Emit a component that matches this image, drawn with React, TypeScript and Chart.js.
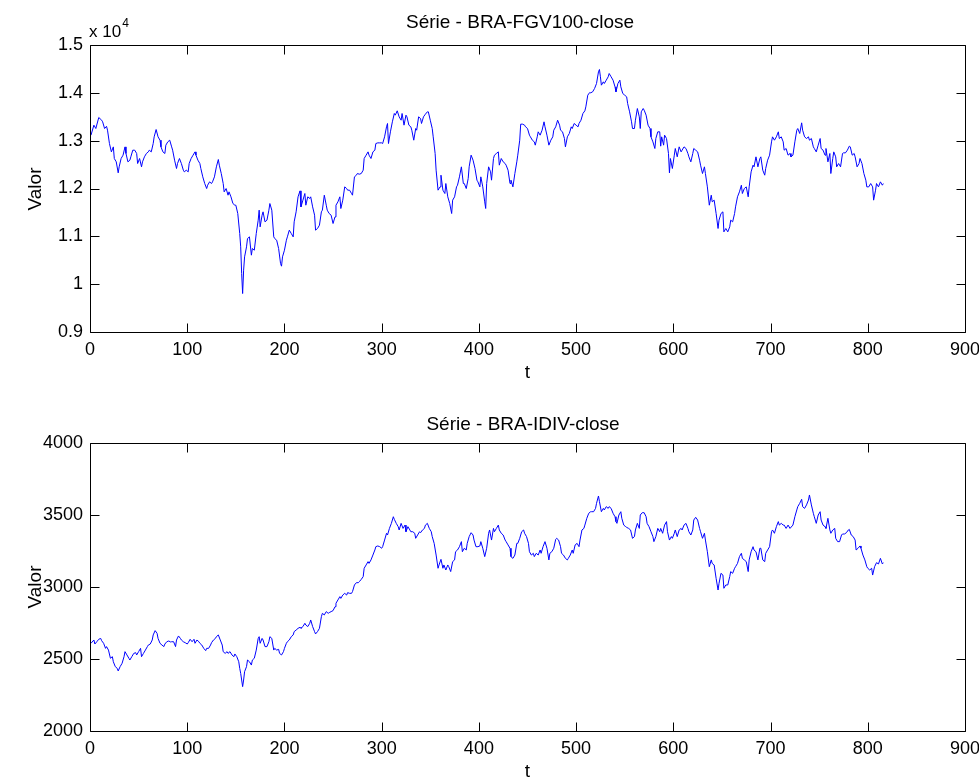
import React, { useEffect, useRef } from "react";
import { Chart, registerables } from "chart.js";

Chart.register(...registerables);

const FONT = '"Liberation Sans", Arial, Helvetica, sans-serif';

const topTitle = "Série - BRA-FGV100-close";
const bottomTitle = "Série - BRA-IDIV-close";
const yLabel = "Valor";
const xLabel = "t";
const xTickValues = [0, 100, 200, 300, 400, 500, 600, 700, 800, 900];
const topYTicks = [9000, 10000, 11000, 12000, 13000, 14000, 15000];
const bottomYTicks = [2000, 2500, 3000, 3500, 4000];

// [t, value] pairs
const fgv100: [number, number][] = [
  [1,13115],[4,13324],[6,13254],[9,13484],[12,13428],[13,13394],[15,13254],[17,13300],[18,13220],[20,12940],[22,12766],[24,12870],[25,12627],[27,12557],[29,12327],[30,12453],[32,12627],[34,12697],[36,12870],[37,12732],[39,12557],[41,12592],[42,12662],[44,12801],[46,12801],[48,12732],[49,12522],[51,12627],[53,12453],[54,12557],[56,12662],[58,12732],[60,12766],[61,12801],[63,12766],[65,12940],[66,13080],[68,13233],[70,13080],[72,13010],[73,12870],[75,12766],[77,12732],[78,12906],[80,12975],[82,13010],[84,12870],[85,12801],[87,12592],[89,12418],[90,12522],[92,12627],[94,12522],[96,12383],[97,12348],[99,12383],[101,12348],[102,12522],[104,12627],[106,12697],[108,12766],[109,12697],[111,12592],[113,12522],[114,12418],[116,12244],[118,12104],[120,11999],[121,12069],[123,12139],[125,12104],[126,12139],[128,12244],[130,12453],[132,12606],[133,12488],[135,12313],[137,12104],[138,11930],[140,11999],[142,11860],[143,11930],[145,11825],[147,11686],[149,11651],[150,11651],[152,11477],[154,11059],[155,10780],[156,10222],[157,9804],[158,10292],[159,10571],[161,10780],[162,10954],[164,10989],[166,10606],[167,10745],[169,10710],[171,11059],[173,11338],[174,11547],[175,11198],[177,11442],[178,11512],[180,11303],[182,11338],[184,11547],[185,11686],[187,11547],[189,10989],[190,10954],[192,10919],[194,10745],[196,10431],[197,10376],[198,10571],
  [200,10710],[202,10919],[203,10989],[205,11129],[207,11059],[209,10989],[210,11303],[212,11512],[214,11826],[216,11951],[217,11616],[219,11756],[221,11895],[222,11651],[224,11826],[226,11791],[227,11826],[229,11616],[231,11442],[232,11129],[234,11164],[236,11233],[238,11512],[239,11547],[241,11860],[243,11651],[244,11547],[246,11477],[248,11442],[250,11268],[252,11407],[253,11651],[255,11721],[257,11826],[258,11581],[260,11756],[262,12034],[264,11999],[265,11965],[267,11965],[269,11895],[270,11860],[272,12244],[274,12278],[275,12313],[277,12299],[279,12313],[281,12383],[282,12627],[284,12697],[286,12766],[287,12697],[289,12627],[291,12766],[293,12801],[294,12940],[296,12954],[298,12954],[300,12954],[301,12940],[303,13080],[305,13289],[306,13359],[307,12940],[309,13185],[311,13394],[313,13568],[314,13533],[316,13624],[318,13498],[320,13428],[321,13568],[323,13324],[325,13533],[326,13498],[328,13324],[330,13289],[331,13219],[333,13010],[335,13254],[336,13219],[338,13498],[340,13463],[341,13359],[343,13498],[345,13554],[347,13603],[348,13603],[350,13428],[352,13254],[353,13080],[355,12732],[356,12383],[358,11965],[360,12034],[361,12278],[363,11965],[365,11895],[366,12104],[368,11826],[370,11686],[372,11477],[373,11756],[375,11826],[377,12034],[378,12069],[380,12244],[382,12453],[384,12104],[385,12104],[387,11999],[389,12209],[390,12453],[392,12697],[394,12592],[396,12418],[398,12174],[399,12139],
  [401,12034],[402,12244],[404,12034],[406,11721],[407,11582],[408,12104],[410,12453],[412,12348],[413,12174],[415,12627],[416,12697],[418,12732],[420,12766],[421,12488],[423,12627],[425,12557],[427,12522],[428,12488],[430,12383],[432,12104],[433,12174],[435,12034],[437,12313],[439,12557],[440,12697],[442,13010],[443,13345],[445,13345],[447,13324],[448,13289],[450,13254],[452,13115],[453,13080],[455,13010],[457,12975],[458,12906],[460,13080],[461,13185],[463,13115],[465,13219],[467,13394],[468,13289],[470,13115],[472,12906],[474,13010],[476,13080],[477,13219],[479,13289],[481,13428],[483,13324],[484,13219],[486,13185],[488,13045],[489,12871],[491,13080],[493,13150],[495,13289],[496,13254],[498,13359],[500,13324],[502,13289],[503,13359],[505,13428],[507,13568],[509,13624],[510,13707],[512,13951],[514,14007],[515,14000],[517,14021],[519,14091],[521,14195],[523,14439],[524,14488],[525,14335],[526,14160],[528,14230],[529,14195],[531,14265],[533,14335],[534,14404],[536,14335],[538,14265],[540,14125],[541,14021],[543,14195],[545,14265],[546,14125],[548,13986],[550,13951],[552,13916],[553,13777],[555,13603],[557,13394],[558,13254],[560,13254],[561,13428],[563,13672],[565,13498],[566,13254],[567,13603],[569,13672],[570,13637],[572,13533],[574,13324],[576,13254],[577,13080],[579,12975],[581,12836],[582,13045],[584,13185],[586,13185],[587,12885],[588,13080],[590,12906],[591,13115],[593,13045],[595,12732],[596,12327],[597,12627],[599,12418],
  [601,12697],[602,12836],[604,12662],[606,12871],[608,12766],[609,12801],[611,12871],[613,12836],[615,12732],[616,12662],[618,12557],[620,12732],[621,12836],[623,12801],[625,12766],[627,12592],[628,12488],[630,12313],[632,12453],[633,12313],[635,12034],[637,11651],[639,11860],[640,11721],[642,11756],[644,11477],[646,11164],[647,11338],[649,11477],[651,11512],[652,11094],[654,11164],[656,11094],[658,11198],[659,11338],[661,11303],[663,11477],[664,11616],[666,11826],[668,11930],[670,12069],[671,11895],[673,11999],[675,12034],[677,11826],[678,12034],[680,12348],[682,12488],[683,12453],[685,12662],[687,12453],[689,12627],[690,12662],[692,12383],[694,12278],[695,12418],[697,12592],[699,12697],[701,12975],[702,13080],[704,13010],[706,13080],[708,13185],[709,13045],[711,13080],[713,12975],[714,12801],[716,12836],[718,12697],[720,12732],[721,12662],[723,12697],[725,12975],[727,13219],[728,13254],[730,13150],[732,13373],[733,13219],[735,13080],[737,13045],[739,13080],[740,13010],[742,13045],[744,12871],[745,12836],[747,12766],[749,12906],[751,13045],[752,12836],[754,12801],[756,12697],[757,12836],[759,12557],[761,12732],[762,12313],[764,12627],[765,12766],[767,12662],[768,12453],[770,12522],[772,12453],[774,12732],[775,12745],[777,12745],[779,12801],[781,12885],[782,12871],[784,12697],[786,12732],[787,12662],[789,12453],[791,12522],[792,12627],[794,12522],[796,12313],[798,12174],[799,12034],[801,12034],[803,12104],[805,12034],[806,11756],[808,11965],[809,12104],[811,12034],[813,12139],[815,12069],[816,12104]
];

const idiv: [number, number][] = [
  [1,2609],[4,2632],[5,2604],[7,2620],[9,2637],[11,2643],[12,2627],[14,2609],[16,2574],[17,2586],[19,2562],[21,2505],[23,2516],[24,2481],[26,2447],[28,2435],[29,2417],[31,2447],[33,2470],[35,2516],[36,2551],[38,2528],[40,2505],[41,2493],[43,2516],[45,2539],[47,2544],[48,2528],[50,2551],[52,2574],[53,2516],[55,2539],[57,2562],[59,2586],[60,2597],[62,2604],[64,2632],[65,2667],[67,2697],[69,2678],[70,2643],[72,2609],[74,2597],[76,2586],[77,2604],[79,2620],[81,2625],[83,2618],[84,2620],[86,2620],[88,2586],[89,2632],[91,2660],[93,2643],[94,2632],[96,2620],[98,2613],[100,2604],[101,2613],[103,2637],[105,2620],[107,2637],[108,2609],[110,2632],[112,2620],[113,2609],[115,2597],[117,2574],[119,2558],[120,2574],[122,2574],[124,2597],[125,2613],[127,2632],[129,2643],[130,2655],[132,2667],[134,2632],[136,2597],[137,2551],[139,2539],[141,2551],[142,2539],[144,2551],[146,2528],[148,2516],[149,2535],[151,2516],[153,2481],[154,2435],[155,2400],[157,2308],[158,2354],[159,2412],[161,2447],[162,2493],[164,2481],[166,2458],[167,2493],[169,2505],[171,2562],[173,2643],[174,2655],[175,2609],[177,2643],[178,2632],[180,2586],[182,2586],[184,2620],[185,2655],[187,2643],[189,2562],[190,2574],[192,2562],[194,2567],[195,2539],[197,2528],[199,2551],
  [200,2574],[202,2609],[203,2620],[205,2632],[207,2655],[209,2667],[210,2690],[212,2701],[214,2713],[216,2720],[217,2713],[219,2725],[221,2748],[222,2736],[224,2725],[226,2748],[227,2771],[229,2725],[231,2690],[232,2674],[234,2690],[236,2713],[238,2794],[239,2817],[241,2806],[243,2829],[245,2817],[246,2822],[248,2829],[250,2836],[252,2863],[253,2887],[255,2910],[257,2933],[258,2921],[260,2944],[262,2956],[264,2944],[265,2961],[267,2956],[269,2956],[270,2968],[272,3014],[274,3030],[276,3030],[277,3037],[279,3053],[281,3072],[282,3130],[284,3153],[286,3176],[287,3164],[289,3188],[291,3222],[293,3257],[294,3280],[296,3285],[298,3280],[300,3269],[301,3280],[303,3326],[305,3373],[306,3361],[308,3407],[310,3442],[312,3488],[313,3470],[315,3442],[317,3419],[318,3396],[320,3442],[322,3407],[324,3430],[325,3384],[327,3419],[329,3396],[330,3384],[332,3384],[334,3373],[335,3338],[337,3361],[339,3384],[340,3377],[342,3396],[344,3407],[345,3430],[347,3442],[349,3407],[351,3384],[352,3350],[354,3303],[356,3222],[358,3130],[359,3153],[361,3192],[363,3130],[364,3153],[366,3118],[368,3153],[369,3141],[371,3107],[373,3176],[375,3188],[376,3245],[378,3257],[380,3280],[382,3315],[383,3245],[385,3269],[387,3257],[388,3303],[390,3350],[392,3377],[394,3361],[395,3326],[397,3280],[399,3280],
  [401,3285],[402,3315],[404,3269],[406,3211],[408,3269],[410,3373],[411,3396],[413,3326],[415,3407],[416,3384],[418,3407],[420,3430],[421,3396],[423,3373],[425,3361],[427,3326],[428,3315],[430,3292],[432,3269],[433,3211],[435,3199],[437,3222],[439,3303],[440,3303],[442,3338],[444,3384],[446,3396],[447,3373],[449,3350],[451,3303],[452,3245],[454,3222],[456,3234],[457,3211],[459,3234],[461,3222],[463,3257],[464,3234],[466,3280],[468,3315],[470,3269],[472,3188],[473,3234],[475,3245],[477,3269],[479,3331],[480,3338],[482,3326],[484,3280],[485,3234],[487,3222],[489,3199],[491,3188],[492,3199],[494,3222],[496,3257],[497,3234],[499,3292],[501,3303],[503,3280],[504,3326],[506,3396],[508,3407],[509,3430],[511,3477],[513,3512],[515,3523],[516,3523],[518,3523],[520,3546],[521,3581],[523,3632],[524,3593],[526,3523],[528,3546],[529,3535],[531,3558],[533,3546],[534,3558],[536,3546],[538,3512],[540,3488],[541,3454],[542,3442],[544,3500],[546,3523],[547,3477],[549,3430],[551,3419],[552,3414],[554,3407],[556,3396],[558,3338],[560,3350],[561,3396],[563,3442],[565,3407],[566,3500],[568,3516],[570,3516],[572,3488],[573,3442],[575,3419],[577,3384],[579,3350],[580,3315],[582,3350],[584,3407],[586,3384],[587,3407],[589,3373],[591,3430],[593,3454],[594,3384],[596,3326],[598,3350],[599,3338],
  [601,3373],[602,3396],[604,3350],[606,3396],[608,3407],[609,3396],[611,3430],[613,3442],[615,3407],[616,3384],[618,3361],[620,3396],[621,3465],[623,3484],[625,3465],[627,3407],[628,3384],[630,3338],[632,3373],[633,3326],[635,3245],[637,3141],[639,3188],[640,3164],[642,3153],[644,3060],[646,2979],[647,3025],[649,3095],[651,3083],[652,2991],[654,3014],[656,3014],[658,3072],[659,3107],[661,3095],[663,3130],[664,3141],[666,3164],[668,3211],[670,3234],[671,3199],[673,3188],[675,3176],[677,3107],[678,3188],[680,3245],[682,3280],[683,3257],[685,3245],[687,3188],[689,3269],[690,3269],[692,3188],[694,3176],[695,3234],[697,3257],[699,3280],[701,3384],[702,3396],[704,3373],[706,3419],[708,3454],[709,3430],[711,3442],[713,3430],[714,3430],[716,3407],[718,3430],[720,3407],[721,3407],[723,3430],[725,3488],[727,3535],[728,3558],[730,3581],[732,3609],[733,3558],[735,3546],[737,3570],[739,3604],[740,3639],[742,3570],[744,3512],[745,3488],[747,3442],[749,3500],[751,3523],[752,3465],[754,3430],[756,3419],[757,3407],[759,3477],[761,3396],[762,3373],[764,3396],[766,3407],[767,3338],[769,3315],[771,3315],[773,3361],[774,3368],[776,3368],[778,3377],[780,3396],[781,3400],[783,3361],[785,3350],[787,3326],[788,3257],[790,3269],[792,3285],[793,3269],[795,3222],[797,3188],[799,3141],[800,3130],[802,3118],[804,3130],[805,3083],[807,3141],[809,3169],[811,3160],[813,3199],[815,3160],[816,3169]
];

type FrameOpts = {
  title: string;
  titleX: number;
  titleY: number;
  labelX: number;
  labelY: number;
  xLabelY: number;
  exponent: boolean;
};

const framePlugin = {
  id: "frame",
  afterDraw(chart: any, _args: any, opts: FrameOpts) {
    const { ctx, chartArea: a, scales } = chart;
    const L = Math.round(a.left) + 0.5;
    const R = Math.round(a.right) + 0.5;
    const T = Math.round(a.top) + 0.5;
    const B = Math.round(a.bottom) + 0.5;
    const TL = 9;
    ctx.save();
    ctx.strokeStyle = "#000";
    ctx.lineWidth = 1;
    ctx.beginPath();
    ctx.rect(L, T, R - L, B - T);
    for (const t of scales.x.ticks) {
      const x = Math.round(scales.x.getPixelForValue(t.value)) + 0.5;
      ctx.moveTo(x, B);
      ctx.lineTo(x, B - TL);
      ctx.moveTo(x, T);
      ctx.lineTo(x, T + TL);
    }
    for (const t of scales.y.ticks) {
      const y = Math.round(scales.y.getPixelForValue(t.value)) + 0.5;
      ctx.moveTo(L, y);
      ctx.lineTo(L + TL, y);
      ctx.moveTo(R, y);
      ctx.lineTo(R - TL, y);
    }
    ctx.stroke();

    ctx.fillStyle = "#000";
    ctx.textAlign = "center";
    ctx.textBaseline = "middle";
    ctx.font = `19px ${FONT}`;
    ctx.fillText(opts.title, opts.titleX, opts.titleY);
    ctx.fillText(xLabel, (a.left + a.right) / 2, opts.xLabelY);
    ctx.save();
    ctx.translate(opts.labelX, opts.labelY);
    ctx.rotate(-Math.PI / 2);
    ctx.fillText(yLabel, 0, 0);
    ctx.restore();

    if (opts.exponent) {
      ctx.textAlign = "left";
      ctx.textBaseline = "alphabetic";
      ctx.font = `17px ${FONT}`;
      ctx.fillText("x 10", 89, 37);
      const w = ctx.measureText("x 10").width;
      ctx.font = `12px ${FONT}`;
      ctx.fillText("4", 89 + w + 1, 27);
    }
    ctx.restore();
  },
};

function buildConfig(
  data: [number, number][],
  yMin: number,
  yMax: number,
  yStep: number,
  yFmt: (v: number) => string,
  padTop: number,
  xAxisHeight: number,
  frame: FrameOpts
): any {
  return {
    type: "line",
    data: {
      datasets: [
        {
          data: data.map(([t, v]) => ({ x: t, y: v })),
          borderColor: "#0000ff",
          borderWidth: 1,
          pointRadius: 0,
          tension: 0,
          fill: false,
        },
      ],
    },
    plugins: [framePlugin],
    options: {
      responsive: false,
      animation: false,
      devicePixelRatio: 1,
      layout: { padding: { top: padTop, right: 14, bottom: 0, left: 0 } },
      plugins: {
        legend: { display: false },
        tooltip: { enabled: false },
        title: { display: false },
        frame,
      },
      scales: {
        x: {
          type: "linear",
          min: 0,
          max: 900,
          afterBuildTicks: (s: any) => {
            s.ticks = xTickValues.map((v) => ({ value: v }));
          },
          ticks: {
            color: "#000",
            font: { family: FONT, size: 18 },
            padding: 7,
            maxRotation: 0,
            callback: (v: any) => String(v),
          },
          grid: { display: false, drawTicks: false },
          border: { display: false },
          afterFit: (s: any) => {
            s.height = xAxisHeight;
            s.paddingLeft = 0;
            s.paddingRight = 0;
          },
        },
        y: {
          type: "linear",
          min: yMin,
          max: yMax,
          ticks: {
            stepSize: yStep,
            color: "#000",
            font: { family: FONT, size: 18 },
            padding: 7,
            callback: (v: any) => yFmt(Number(v)),
          },
          grid: { display: false, drawTicks: false },
          border: { display: false },
          afterFit: (s: any) => {
            s.width = 90;
            s.paddingTop = 0;
            s.paddingBottom = 0;
          },
        },
      },
    },
  };
}

export default function App() {
  const topRef = useRef<HTMLCanvasElement>(null);
  const botRef = useRef<HTMLCanvasElement>(null);

  useEffect(() => {
    const c1 = new Chart(
      topRef.current as HTMLCanvasElement,
      buildConfig(
        fgv100,
        topYTicks[0],
        topYTicks[topYTicks.length - 1],
        1000,
        (v) => String(Math.round(v / 100) / 100),
        45,
        58,
        { title: topTitle, titleX: 520, titleY: 23, labelX: 36, labelY: 189, xLabelY: 373, exponent: true }
      )
    );
    const c2 = new Chart(
      botRef.current as HTMLCanvasElement,
      buildConfig(
        idiv,
        bottomYTicks[0],
        bottomYTicks[bottomYTicks.length - 1],
        500,
        (v) => String(v),
        53,
        50,
        { title: bottomTitle, titleX: 523, titleY: 35, labelX: 36, labelY: 197, xLabelY: 382, exponent: false }
      )
    );
    return () => {
      c1.destroy();
      c2.destroy();
    };
  }, []);

  return (
    <div style={{ position: "absolute", left: 0, top: 0, width: 979, height: 781, background: "#fff" }}>
      <canvas ref={topRef} width={979} height={390} style={{ position: "absolute", left: 0, top: 0, width: 979, height: 390 }} />
      <canvas ref={botRef} width={979} height={391} style={{ position: "absolute", left: 0, top: 390, width: 979, height: 391 }} />
    </div>
  );
}
